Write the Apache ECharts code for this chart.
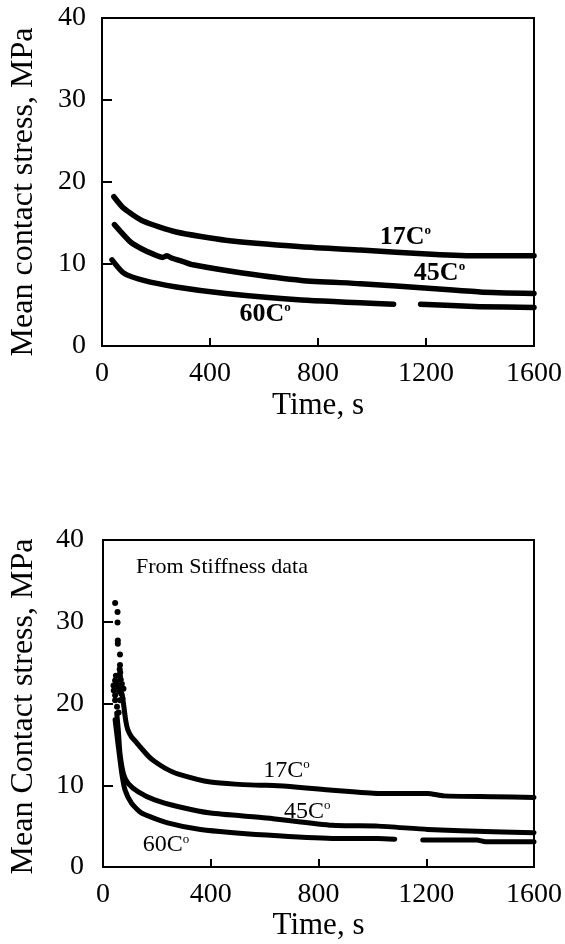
<!DOCTYPE html>
<html>
<head>
<meta charset="utf-8">
<title>Mean contact stress vs time</title>
<script src="https://cdn.jsdelivr.net/npm/echarts@6/dist/echarts.min.js"></script>
<style>
html, body { margin: 0; padding: 0; background: #fff; }
#main { width: 565px; height: 944px; }
</style>
</head>
<body>
<div id="main"></div>
<script>
// axis ticks
const timeTicks = [0, 400, 800, 1200, 1600];
const stressTicks = [0, 10, 20, 30, 40];

// upper plot, [time s, stress MPa]
const top17 = [[44, 18.2], [80, 16.8], [154, 15.2], [275, 13.9], [458, 12.9], [739, 12.1], [958, 11.7], [1221, 11.2], [1400, 11.0], [1600, 11.0]];
const top45 = [[46, 14.8], [105, 12.7], [150, 11.8], [190, 11.2], [225, 10.8], [240, 11.0], [260, 10.7], [300, 10.3], [337, 9.9], [520, 8.9], [739, 8.0], [958, 7.6], [1221, 7.0], [1400, 6.6], [1600, 6.4]];
const top60a = [[37, 10.5], [80, 8.9], [154, 8.0], [275, 7.2], [458, 6.4], [739, 5.6], [1080, 5.1]];
const top60b = [[1180, 5.1], [1400, 4.8], [1600, 4.7]];

// lower plot "From Stiffness data"
const botDots = [[45, 32.3], [54, 31.2], [54, 29.9], [55, 27.7], [55, 27.3], [63, 26.0], [63, 24.7], [62, 24.2], [64, 23.8], [63, 23.3],
  [39, 22.2], [45, 22.8], [57, 22.0], [70, 22.4], [76, 21.8], [45, 21.0], [63, 20.4], [45, 20.4], [50, 22.5], [60, 21.5], [40, 21.6],
  [68, 21.2], [72, 20.6], [52, 19.6], [58, 18.9], [48, 23.4], [66, 22.9]];
const bot17 = [[72, 21.0], [78, 19.5], [84, 18.0], [92, 16.8], [106, 15.9], [125, 15.2], [143, 14.5], [170, 13.5], [192, 12.9], [230, 12.1], [277, 11.4], [399, 10.4], [582, 10.0], [607, 10.0], [851, 9.4], [1022, 9.0], [1205, 9.0], [1266, 8.7], [1449, 8.6], [1600, 8.5]];
const bot45 = [[51, 18.8], [57, 16.7], [63, 13.9], [76, 11.4], [94, 10.2], [131, 9.2], [192, 8.2], [277, 7.4], [399, 6.6], [607, 6.0], [851, 5.1], [1022, 5.0], [1205, 4.6], [1449, 4.3], [1600, 4.2]];
const bot60a = [[45, 18.0], [57, 14.7], [70, 11.4], [82, 9.4], [106, 7.8], [143, 6.6], [240, 5.4], [362, 4.6], [607, 3.9], [851, 3.5], [1022, 3.5], [1083, 3.4]];
const bot60b = [[1187, 3.3], [1388, 3.3], [1420, 3.1], [1600, 3.1]];

// curve labels
const tempNames = ["17C", "45C", "60C"];
const topLabelAt = [[1124, 13.3], [1250, 8.9], [604, 3.9]];
const botLabelAt = [[681, 11.8], [758, 6.8], [234, 2.7]];

const serif = "Liberation Serif, Times New Roman, serif";

let chart = echarts.init(document.getElementById("main"));

function xAxisOf(gi, nameGap, labelMargin) {
  return {
    gridIndex: gi,
    type: "value",
    min: timeTicks[0],
    max: timeTicks[timeTicks.length - 1],
    interval: timeTicks[1] - timeTicks[0],
    name: "Time, s",
    nameLocation: "middle",
    nameGap: nameGap,
    nameTextStyle: { fontFamily: serif, fontSize: 31, color: "#000" },
    axisLine: { lineStyle: { color: "#000", width: 2 } },
    axisTick: { show: true, inside: true, length: 8, lineStyle: { color: "#000", width: 2 } },
    axisLabel: { fontFamily: serif, fontSize: 28, color: "#000", margin: labelMargin, formatter: (v) => String(v) },
    splitLine: { show: false },
  };
}

function yAxisOf(gi, name, nameGap, labelMargin, pad) {
  return {
    gridIndex: gi,
    type: "value",
    min: stressTicks[0],
    max: stressTicks[stressTicks.length - 1],
    interval: stressTicks[1] - stressTicks[0],
    name: name,
    nameLocation: "middle",
    nameGap: nameGap,
    nameTextStyle: { fontFamily: serif, fontSize: 32, color: "#000", padding: pad },
    axisLine: { lineStyle: { color: "#000", width: 2 } },
    axisTick: { show: true, inside: true, length: 10, lineStyle: { color: "#000", width: 2 } },
    axisLabel: { fontFamily: serif, fontSize: 28, color: "#000", margin: labelMargin },
    splitLine: { show: false },
  };
}

function labelMarks(pos, bold) {
  return {
    symbol: "circle",
    symbolSize: 0,
    silent: true,
    label: {
      show: true,
      position: "inside",
      rich: {
        a: { fontFamily: serif, fontSize: bold ? 26 : 24, fontWeight: bold ? "bold" : "normal", color: "#000" },
        b: { fontFamily: serif, fontSize: 13, fontWeight: bold ? "bold" : "normal", color: "#000", verticalAlign: "top" },
      },
    },
    data: pos.map((p, i) => ({
      coord: p,
      label: { formatter: "{a|" + tempNames[i] + "}{b|o}" },
    })),
  };
}

function curve(data, gi, width) {
  return {
    type: "line",
    xAxisIndex: gi,
    yAxisIndex: gi,
    data: data,
    symbol: "none",
    smooth: 0.2,
    lineStyle: { color: "#000", width: width, cap: "round", join: "round" },
    z: 3,
  };
}

let option = {
  animation: false,
  backgroundColor: "#fff",
  grid: [
    { left: 98, top: 18, width: 437, height: 328, show: true, borderColor: "#000", borderWidth: 2, backgroundColor: "transparent" },
    { left: 101, top: 540, width: 437, height: 327, show: true, borderColor: "#000", borderWidth: 2, backgroundColor: "transparent" },
  ],
  title: {
    text: "From Stiffness data",
    left: 131,
    top: 551,
    textStyle: { fontFamily: serif, fontSize: 22, fontWeight: "normal", color: "#000" },
  },
  xAxis: [xAxisOf(0, 44, 14), xAxisOf(1, 40, 14)],
  yAxis: [
    yAxisOf(0, "Mean contact stress, MPa", 62, 16, [0, 20, 0, 0]),
    yAxisOf(1, "Mean Contact stress, MPa", 63, 19, [0, 6, 0, 0]),
  ],
  series: [
    Object.assign(curve(top17, 0, 5.5), { markPoint: labelMarks(topLabelAt, true) }),
    curve(top45, 0, 5.5),
    curve(top60a, 0, 5.5),
    curve(top60b, 0, 5.5),
    Object.assign(curve(bot17, 1, 5), { markPoint: labelMarks(botLabelAt, false) }),
    curve(bot45, 1, 5),
    curve(bot60a, 1, 5),
    curve(bot60b, 1, 5),
    {
      type: "scatter",
      xAxisIndex: 1,
      yAxisIndex: 1,
      data: botDots,
      symbolSize: 6,
      itemStyle: { color: "#000", opacity: 1 },
    },
  ],
};

chart.setOption(option);
</script>
</body>
</html>
